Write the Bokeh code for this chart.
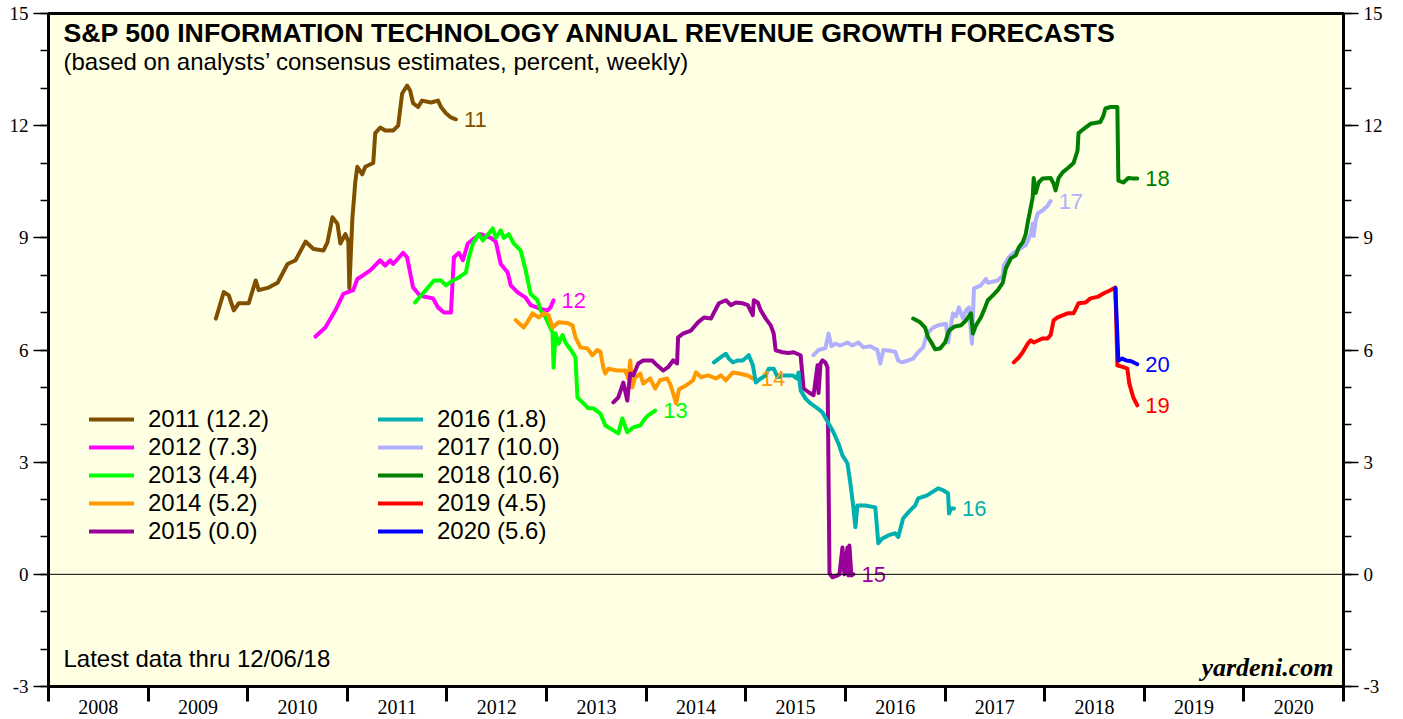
from bokeh.plotting import figure
from bokeh.models import (Range1d, LinearAxis, FixedTicker, Span, Label, Legend,
                          LegendItem, ColumnDataSource)
from bokeh.core.properties import value
from bokeh.embed import file_html
from bokeh.resources import INLINE

# ---------------- data (decimal year, percent) ----------------
x2011 = [2009.68, 2009.76, 2009.81, 2009.86, 2009.91, 2010.01, 2010.08, 2010.11, 2010.21, 2010.30,
         2010.40, 2010.48, 2010.58, 2010.66, 2010.76, 2010.80, 2010.85, 2010.90, 2010.93, 2010.98,
         2011.01, 2011.02, 2011.05, 2011.08, 2011.10, 2011.15, 2011.18, 2011.26, 2011.28, 2011.33,
         2011.38, 2011.46, 2011.51, 2011.55, 2011.60, 2011.63, 2011.66, 2011.71, 2011.75, 2011.84,
         2011.91, 2011.94, 2011.99, 2012.04, 2012.09]
y2011 = [6.84, 7.55, 7.46, 7.06, 7.25, 7.25, 7.86, 7.60, 7.67, 7.80,
         8.30, 8.40, 8.90, 8.70, 8.66, 8.88, 9.55, 9.38, 8.85, 9.10,
         8.90, 7.65, 9.50, 10.50, 10.90, 10.70, 10.90, 11.00, 11.80, 11.95,
         11.87, 11.87, 12.00, 12.86, 13.07, 12.94, 12.60, 12.50, 12.67, 12.62,
         12.67, 12.50, 12.33, 12.22, 12.17]

x2012 = [2010.68, 2010.78, 2010.88, 2010.96, 2011.06, 2011.10, 2011.16, 2011.23, 2011.33, 2011.38,
         2011.43, 2011.46, 2011.56, 2011.60, 2011.66, 2011.73, 2011.86, 2011.91, 2011.97, 2012.04,
         2012.07, 2012.12, 2012.16, 2012.21, 2012.27, 2012.34, 2012.44, 2012.49, 2012.54, 2012.61,
         2012.64, 2012.71, 2012.79, 2012.84, 2012.94, 2013.01, 2013.04, 2013.07]
y2012 = [6.36, 6.60, 7.06, 7.50, 7.60, 7.90, 8.00, 8.13, 8.40, 8.26,
         8.40, 8.30, 8.60, 8.48, 7.67, 7.45, 7.38, 7.14, 7.00, 7.00,
         8.48, 8.60, 8.40, 8.85, 8.98, 9.10, 9.00, 8.90, 8.30, 8.07,
         7.73, 7.54, 7.40, 7.20, 7.10, 7.06, 7.14, 7.33]

x2013 = [2011.68, 2011.87, 2011.94, 2011.99, 2012.06, 2012.12, 2012.19, 2012.22, 2012.26, 2012.32,
         2012.36, 2012.46, 2012.49, 2012.54, 2012.57, 2012.62, 2012.67, 2012.74, 2012.79, 2012.84,
         2012.91, 2012.94, 2012.99, 2013.06, 2013.07, 2013.09, 2013.12, 2013.16, 2013.19, 2013.26,
         2013.29, 2013.31, 2013.36, 2013.42, 2013.47, 2013.54, 2013.59, 2013.67, 2013.72, 2013.76,
         2013.81, 2013.87, 2013.94, 2013.99, 2014.02, 2014.09]
y2013 = [7.27, 7.86, 7.86, 7.73, 7.86, 7.94, 8.07, 8.48, 8.85, 9.10,
         8.93, 9.25, 9.00, 9.20, 9.00, 9.10, 8.85, 8.66, 8.13, 7.50,
         7.33, 7.06, 6.87, 6.47, 5.53, 6.44, 6.17, 6.40, 6.20, 5.94,
         5.80, 4.73, 4.60, 4.44, 4.44, 4.30, 3.98, 3.85, 3.77, 4.17,
         3.80, 3.93, 3.98, 4.17, 4.25, 4.38]

x2014 = [2012.69, 2012.77, 2012.82, 2012.86, 2012.92, 2012.97, 2013.02, 2013.06, 2013.12, 2013.21,
         2013.26, 2013.29, 2013.34, 2013.41, 2013.46, 2013.51, 2013.54, 2013.57, 2013.59, 2013.62,
         2013.71, 2013.79, 2013.82, 2013.84, 2013.86, 2013.89, 2013.94, 2013.97, 2014.04, 2014.09,
         2014.14, 2014.21, 2014.24, 2014.27, 2014.30, 2014.33, 2014.40, 2014.47, 2014.50, 2014.55,
         2014.62, 2014.70, 2014.75, 2014.80, 2014.87, 2014.93, 2015.02, 2015.07]
y2014 = [6.80, 6.60, 6.80, 6.98, 6.87, 6.98, 6.93, 6.60, 6.74, 6.72,
         6.66, 6.34, 6.07, 6.04, 5.86, 6.00, 5.96, 5.53, 5.37, 5.50,
         5.45, 5.45, 5.24, 5.72, 5.00, 5.27, 5.37, 5.10, 5.24, 4.97,
         5.19, 5.24, 5.10, 4.85, 4.57, 4.95, 5.05, 5.19, 5.40, 5.27,
         5.32, 5.24, 5.32, 5.19, 5.40, 5.37, 5.32, 5.24]

x2015 = [2013.67, 2013.72, 2013.77, 2013.81, 2013.84, 2013.87, 2013.92, 2013.97, 2014.06, 2014.11,
         2014.17, 2014.22, 2014.27, 2014.31, 2014.32, 2014.37, 2014.45, 2014.52, 2014.58, 2014.65,
         2014.68, 2014.73, 2014.80, 2014.85, 2014.90, 2014.97, 2015.02, 2015.07, 2015.08, 2015.12,
         2015.15, 2015.20, 2015.25, 2015.28, 2015.30, 2015.37, 2015.43, 2015.48, 2015.55, 2015.58,
         2015.63, 2015.68, 2015.72, 2015.73, 2015.75, 2015.77, 2015.80, 2015.82, 2015.84, 2015.87,
         2015.92, 2015.94, 2015.97, 2015.99, 2016.02, 2016.03, 2016.04, 2016.06, 2016.08]
y2015 = [4.60, 4.73, 5.13, 4.65, 5.37, 5.32, 5.64, 5.72, 5.72, 5.59,
         5.45, 5.54, 5.72, 5.64, 6.34, 6.44, 6.52, 6.74, 6.87, 6.84,
         7.00, 7.25, 7.33, 7.20, 7.27, 7.25, 7.20, 6.93, 7.33, 7.27,
         7.06, 6.84, 6.66, 6.44, 5.99, 5.94, 5.92, 5.94, 5.86, 4.97,
         4.87, 4.79, 5.59, 4.85, 5.64, 5.72, 5.66, 5.54, 0.03, -0.08,
         -0.03, 0.00, 0.72, 0.00, 0.72, -0.03, 0.77, -0.03, 0.00]

x2016 = [2014.68, 2014.73, 2014.80, 2014.83, 2014.87, 2014.92, 2014.97, 2015.03, 2015.07, 2015.10,
         2015.15, 2015.20, 2015.23, 2015.28, 2015.32, 2015.37, 2015.47, 2015.51, 2015.53, 2015.55,
         2015.60, 2015.65, 2015.72, 2015.77, 2015.83, 2015.88, 2015.93, 2015.97, 2016.02, 2016.05,
         2016.08, 2016.10, 2016.12, 2016.20, 2016.30, 2016.33, 2016.37, 2016.43, 2016.50, 2016.53,
         2016.58, 2016.65, 2016.70, 2016.73, 2016.82, 2016.93, 2016.98, 2017.03, 2017.04, 2017.06,
         2017.09]
y2016 = [5.67, 5.77, 5.90, 5.77, 5.67, 5.72, 5.72, 5.86, 5.60, 5.13,
         5.24, 5.32, 5.50, 5.50, 5.27, 5.32, 5.32, 5.24, 5.40, 4.92,
         4.70, 4.57, 4.44, 4.33, 4.04, 3.80, 3.50, 3.18, 2.97, 2.43,
         1.79, 1.26, 1.84, 1.84, 1.79, 0.83, 0.96, 1.04, 1.10, 1.00,
         1.50, 1.71, 1.84, 2.03, 2.11, 2.30, 2.25, 2.17, 1.63, 1.76,
         1.76]

x2017 = [2015.68, 2015.73, 2015.80, 2015.83, 2015.86, 2015.90, 2015.95, 2016.02, 2016.07, 2016.13,
         2016.18, 2016.25, 2016.32, 2016.35, 2016.38, 2016.45, 2016.50, 2016.53, 2016.57, 2016.63,
         2016.68, 2016.73, 2016.78, 2016.82, 2016.88, 2016.93, 2017.01, 2017.03, 2017.08, 2017.11,
         2017.14, 2017.18, 2017.21, 2017.24, 2017.27, 2017.29, 2017.36, 2017.41, 2017.43, 2017.53,
         2017.58, 2017.59, 2017.64, 2017.69, 2017.76, 2017.81, 2017.86, 2017.88, 2017.89, 2017.91,
         2017.93, 2017.98, 2018.03, 2018.06]
y2017 = [5.86, 6.00, 6.05, 6.44, 6.10, 6.17, 6.12, 6.20, 6.12, 6.20,
         6.07, 6.10, 6.00, 5.64, 6.00, 5.98, 5.95, 5.72, 5.67, 5.72,
         5.77, 5.94, 6.07, 6.44, 6.60, 6.66, 6.70, 6.20, 6.98, 6.90,
         7.14, 6.84, 7.06, 7.14, 6.17, 7.65, 7.73, 7.90, 7.80, 7.86,
         8.00, 8.26, 8.48, 8.60, 8.72, 8.80, 9.10, 9.38, 9.05, 9.46,
         9.65, 9.73, 9.86, 9.98]

x2018 = [2016.68, 2016.75, 2016.80, 2016.83, 2016.87, 2016.90, 2016.95, 2017.00, 2017.04, 2017.09,
         2017.16, 2017.21, 2017.26, 2017.28, 2017.31, 2017.36, 2017.39, 2017.43, 2017.48, 2017.53,
         2017.58, 2017.61, 2017.66, 2017.71, 2017.74, 2017.78, 2017.81, 2017.83, 2017.86, 2017.88,
         2017.89, 2017.91, 2017.94, 2017.98, 2018.06, 2018.09, 2018.11, 2018.14, 2018.18, 2018.24,
         2018.29, 2018.33, 2018.34, 2018.41, 2018.46, 2018.56, 2018.59, 2018.61, 2018.66, 2018.73,
         2018.74, 2018.79, 2018.84, 2018.89, 2018.93]
y2018 = [6.84, 6.74, 6.60, 6.34, 6.17, 6.02, 6.04, 6.20, 6.52, 6.62,
         6.66, 6.79, 6.98, 6.44, 6.66, 6.87, 7.06, 7.33, 7.46, 7.60,
         7.80, 8.18, 8.45, 8.53, 8.74, 8.88, 9.10, 9.41, 9.81, 10.08,
         10.60, 10.20, 10.48, 10.59, 10.60, 10.45, 10.27, 10.60, 10.75, 10.88,
         11.00, 11.33, 11.80, 11.95, 12.05, 12.10, 12.27, 12.46, 12.50, 12.50,
         10.53, 10.48, 10.60, 10.59, 10.59]

x2019 = [2017.69, 2017.74, 2017.78, 2017.83, 2017.86, 2017.89, 2017.94, 2017.98, 2018.03, 2018.06,
         2018.09, 2018.13, 2018.23, 2018.29, 2018.34, 2018.41, 2018.46, 2018.53, 2018.59, 2018.66,
         2018.71, 2018.73, 2018.79, 2018.83, 2018.85, 2018.89, 2018.93]
y2019 = [5.67, 5.80, 5.94, 6.17, 6.26, 6.20, 6.26, 6.31, 6.31, 6.40,
         6.79, 6.87, 6.98, 6.98, 7.25, 7.27, 7.38, 7.42, 7.51, 7.60,
         7.67, 5.59, 5.54, 5.50, 5.10, 4.73, 4.52]

x2020 = [2018.71, 2018.74, 2018.78, 2018.82, 2018.87, 2018.93]
y2020 = [7.65, 5.72, 5.77, 5.72, 5.70, 5.62]

series_x = [x2011, x2012, x2013, x2014, x2015, x2016, x2017, x2018, x2019, x2020]
series_y = [y2011, y2012, y2013, y2014, y2015, y2016, y2017, y2018, y2019, y2020]
end_labels = ["11", "12", "13", "14", "15", "16", "17", "18", "19", "20"]
legend_labels = ["2011 (12.2)", "2012 (7.3)", "2013 (4.4)", "2014 (5.2)", "2015 (0.0)",
                 "2016 (1.8)", "2017 (10.0)", "2018 (10.6)", "2019 (4.5)", "2020 (5.6)"]
colors = ["#805000", "#FF00FF", "#00FF00", "#FF9900", "#990099",
          "#00AFAF", "#B0B0FF", "#007F00", "#FF0000", "#0000FF"]

year_labels = ["2008", "2009", "2010", "2011", "2012", "2013", "2014",
               "2015", "2016", "2017", "2018", "2019", "2020"]
y_major = [-3, 0, 3, 6, 9, 12, 15]
y_major_text = ["-3", "0", "3", "6", "9", "12", "15"]
y_minor = list(range(-3, 16))

SANS = "Liberation Sans"
SERIF = "Liberation Serif"

# ---------------- figure ----------------
p = figure(frame_width=1295, frame_height=673,
           x_range=Range1d(2008, 2021), y_range=Range1d(-3, 15),
           x_axis_type=None, y_axis_type=None,
           output_backend="svg", toolbar_location=None,
           min_border_left=48, min_border_right=55, min_border_top=13, min_border_bottom=20,
           background_fill_color="#FFFFE4", border_fill_color="white",
           outline_line_color="black", outline_line_width=3)

# x axis: year labels centred between year boundaries (boundaries as minor ticks)
years = [int(s) for s in year_labels]
centres = [y + 0.5 for y in years]
bounds = years + [years[-1] + 1]
xaxis = LinearAxis(ticker=FixedTicker(ticks=centres, minor_ticks=bounds),
                   major_label_overrides={c: s for c, s in zip(centres, year_labels)},
                   major_tick_in=0, major_tick_out=0,
                   minor_tick_in=0, minor_tick_out=15, minor_tick_line_width=3,
                   minor_tick_line_color="black",
                   axis_line_width=3, axis_line_color="black",
                   major_label_standoff=-2,
                   major_label_text_font=SERIF, major_label_text_font_size="20px",
                   major_label_text_color="black")
p.add_layout(xaxis, "below")

for side in ("left", "right"):
    ax = LinearAxis(ticker=FixedTicker(ticks=y_major, minor_ticks=y_minor),
                    major_label_overrides={v: s for v, s in zip(y_major, y_major_text)},
                    major_tick_in=0, major_tick_out=15, major_tick_line_width=1.5,
                    minor_tick_in=0, minor_tick_out=8, minor_tick_line_width=1.5,
                    major_tick_line_color="black", minor_tick_line_color="black",
                    axis_line_width=3, axis_line_color="black",
                    major_label_standoff=5,
                    major_label_text_font=SERIF, major_label_text_font_size="19px",
                    major_label_text_color="black")
    p.add_layout(ax, side)

p.add_layout(Span(location=0, dimension="width", line_color="black", line_width=1))

# ---------------- series ----------------
renderers = []
for xs, ys, c in zip(series_x, series_y, colors):
    r = p.line(xs, ys, line_color=c, line_width=4, line_join="round", line_cap="round")
    renderers.append(r)

ends = ColumnDataSource(dict(x=[xs[-1] for xs in series_x],
                             y=[ys[-1] for ys in series_y],
                             text=end_labels, color=colors))
p.text(x="x", y="y", text="text", text_color="color", source=ends,
       x_offset=8, text_baseline="middle", text_align="left",
       text_font=value(SANS), text_font_size=value("22px"))

# ---------------- legends ----------------
def make_legend(idx, loc):
    return Legend(items=[LegendItem(label=legend_labels[i], renderers=[renderers[i]]) for i in idx],
                  location=loc, orientation="vertical",
                  glyph_width=45, glyph_height=20, label_height=20, label_standoff=14,
                  spacing=0, padding=0, margin=0,
                  background_fill_alpha=0, border_line_alpha=0,
                  label_text_font=SANS, label_text_font_size="24px",
                  label_text_color="black")

p.add_layout(make_legend(range(0, 5), (41, 141)))
p.add_layout(make_legend(range(5, 10), (330, 141)))

# ---------------- texts ----------------
p.add_layout(Label(x=2008.15, y=14.47, text="S&P 500 INFORMATION TECHNOLOGY ANNUAL REVENUE GROWTH FORECASTS",
                   text_font=SANS, text_font_style="bold", text_font_size="26.7px",
                   text_baseline="alphabetic", text_color="black"))
p.add_layout(Label(x=2008.15, y=13.71, text="(based on analysts\u2019 consensus estimates, percent, weekly)",
                   text_font=SANS, text_font_size="24px",
                   text_baseline="alphabetic", text_color="black"))
p.add_layout(Label(x=2008.15, y=-2.25, text="Latest data thru 12/06/18",
                   text_font=SANS, text_font_size="24px",
                   text_baseline="alphabetic", text_color="black"))
p.add_layout(Label(x=2020.90, y=-2.49, text="yardeni.com", text_align="right",
                   text_font=SERIF, text_font_style="bold italic", text_font_size="26px",
                   text_baseline="alphabetic", text_color="black"))

open("out.html", "w").write(file_html(p, INLINE))
